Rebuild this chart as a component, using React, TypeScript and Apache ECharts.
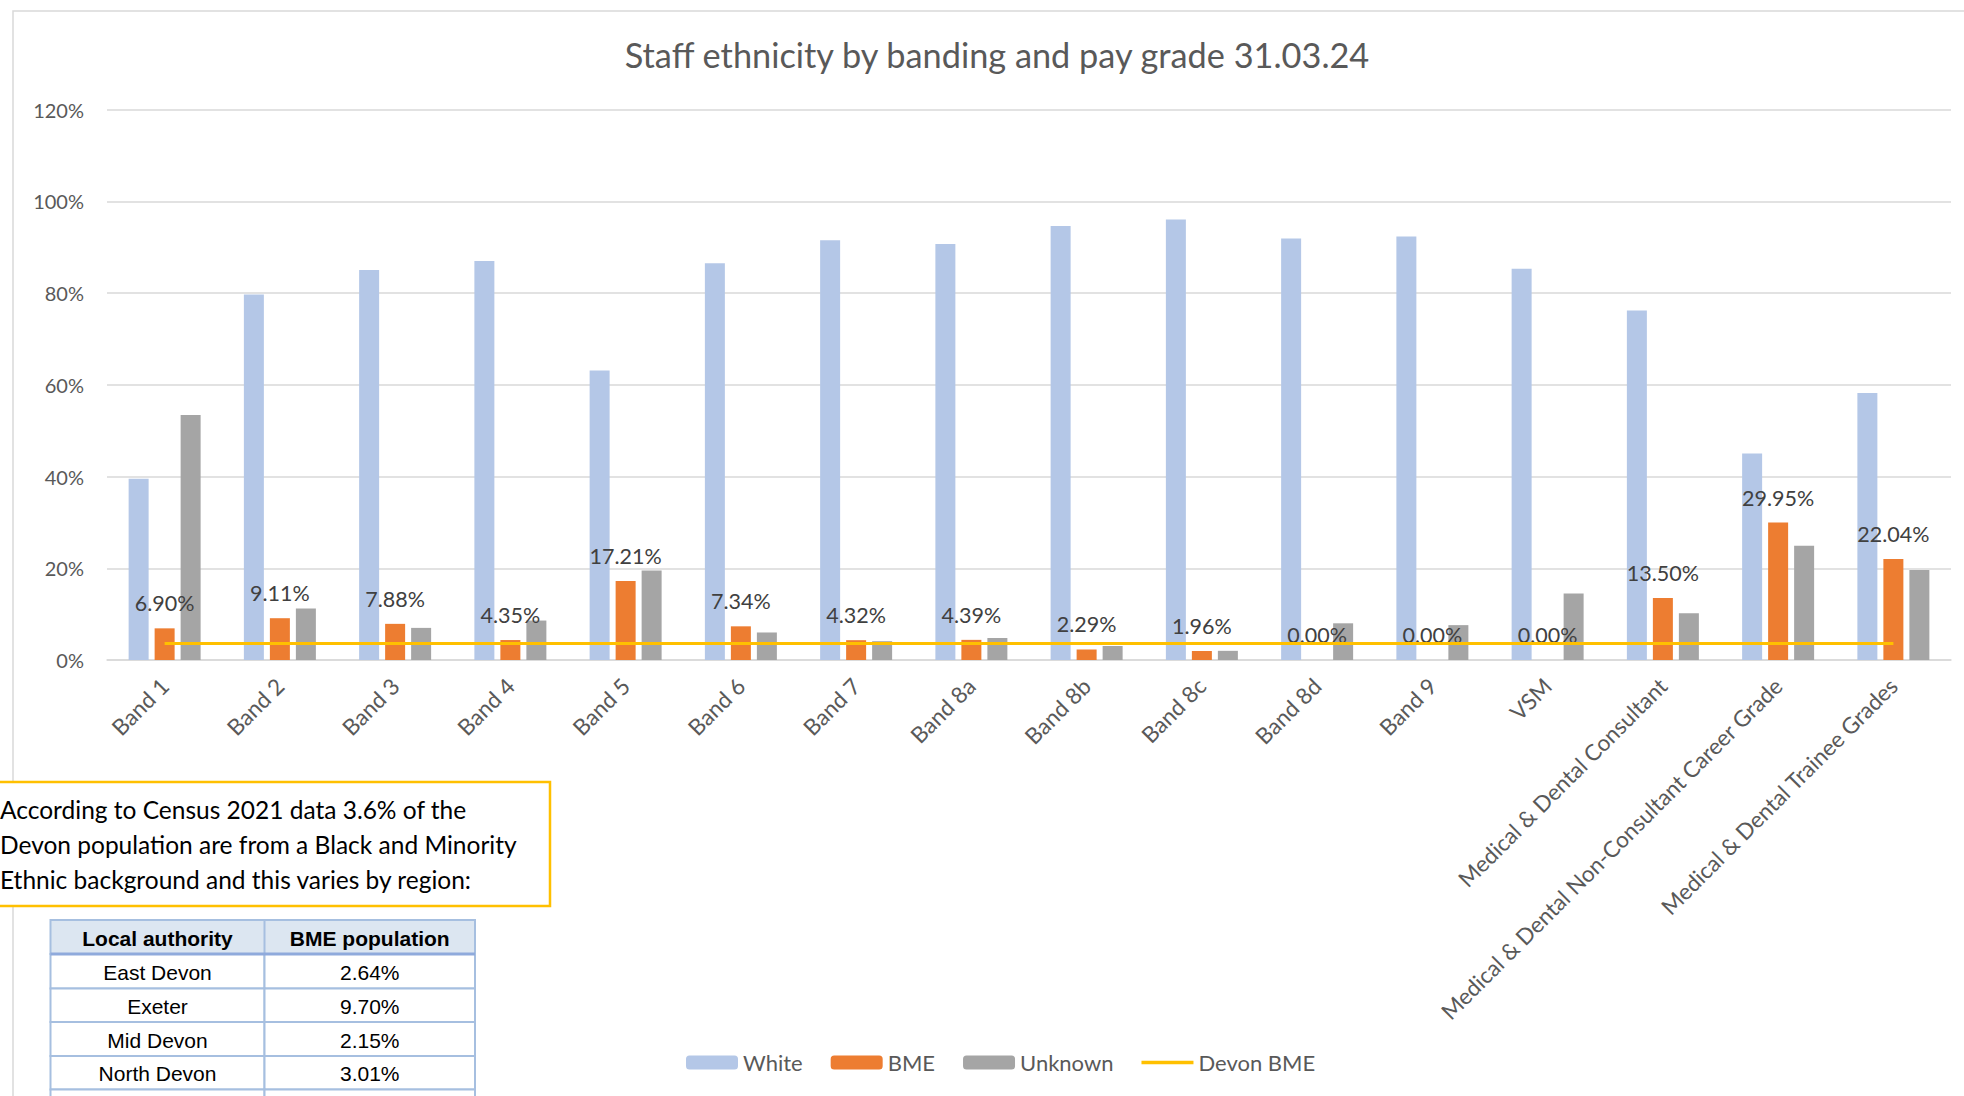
import React, { useEffect, useRef } from "react";
import * as echarts from "echarts";

const categories = [
  "Band 1", "Band 2", "Band 3", "Band 4", "Band 5", "Band 6", "Band 7", "Band 8a",
  "Band 8b", "Band 8c", "Band 8d", "Band 9", "VSM", "Medical & Dental Consultant",
  "Medical & Dental Non-Consultant Career Grade", "Medical & Dental Trainee Grades",
];
const whiteValues = [39.5, 79.7, 85.0, 87.0, 63.1, 86.5, 91.5, 90.7, 94.6, 96.0, 91.9, 92.3, 85.3, 76.2, 45.0, 58.2];
const bmeValues = [6.9, 9.11, 7.88, 4.35, 17.21, 7.34, 4.32, 4.39, 2.29, 1.96, 0, 0, 0, 13.5, 29.95, 22.04];
const unknownValues = [53.4, 11.2, 7.0, 8.6, 19.5, 6.0, 4.1, 4.8, 3.05, 2.0, 8.0, 7.6, 14.5, 10.2, 24.9, 19.6];
const devonBme = 3.6;
const yMin = 0;
const yMax = 120;
const yStep = 20;

const titleText = "Staff ethnicity by banding and pay grade 31.03.24";
const noteLines = [
  "According to Census 2021 data 3.6% of the",
  "Devon population are from a Black and Minority",
  "Ethnic background and this varies by region:",
];
const tableHeaders = ["Local authority", "BME population"];
const authorities = ["East Devon", "Exeter", "Mid Devon", "North Devon"];
const bmePopulation = ["2.64%", "9.70%", "2.15%", "3.01%"];

const FONT = "Lato, sans-serif";
const TABLE_FONT = "'Liberation Sans', Arial, sans-serif";

function txt(text: string, x: number, y: number, opts: any = {}) {
  const align = opts.align || "left";
  return {
    type: "text",
    silent: true,
    z: opts.z ?? 20,
    style: {
      text,
      x,
      y,
      fill: opts.fill || "#000",
      fontSize: opts.fontSize || 20,
      fontFamily: opts.fontFamily || FONT,
      fontWeight: opts.fontWeight || "normal",
      align,
      textAlign: align,
      verticalAlign: "middle",
      textVerticalAlign: "middle",
    },
  };
}

function buildGraphic() {
  const els: any[] = [];
  els.push({
    type: "rect", silent: true, z: 0,
    shape: { x: 13, y: 11, width: 2100, height: 1300 },
    style: { fill: "none", stroke: "#D9D9D9", lineWidth: 1.5 },
  });
  els.push(txt(titleText, 997, 54, { fontSize: 34.3, fill: "#595959", align: "center" }));
  els.push({
    type: "rect", silent: true, z: 18,
    shape: { x: -10, y: 782, width: 560, height: 124 },
    style: { fill: "#fff", stroke: "#FFC000", lineWidth: 2.5 },
  });
  const noteY = [809.5, 844.5, 879.5];
  noteLines.forEach((l, i) => els.push(txt(l, 0, noteY[i], { fontSize: 24.5, fill: "#000" })));

  const colX = [50.5, 264.5, 475];
  const rowY = [920, 954, 988.5, 1022, 1056, 1089.5, 1124];
  const borderColor = "#A6BFE0";
  els.push({
    type: "rect", silent: true, z: 18,
    shape: { x: colX[0], y: rowY[0], width: colX[2] - colX[0], height: rowY[1] - rowY[0] },
    style: { fill: "#DCE6F1", stroke: borderColor, lineWidth: 2 },
  });
  for (let r = 1; r < rowY.length - 1; r++) {
    for (let c = 0; c < 2; c++) {
      els.push({
        type: "rect", silent: true, z: 18,
        shape: { x: colX[c], y: rowY[r], width: colX[c + 1] - colX[c], height: rowY[r + 1] - rowY[r] },
        style: { fill: "#fff", stroke: borderColor, lineWidth: 2 },
      });
    }
  }
  els.push({
    type: "line", silent: true, z: 19,
    shape: { x1: colX[1], y1: rowY[0], x2: colX[1], y2: rowY[1] },
    style: { stroke: borderColor, lineWidth: 2 },
  });
  els.push({
    type: "line", silent: true, z: 19,
    shape: { x1: colX[0], y1: rowY[1], x2: colX[2], y2: rowY[1] },
    style: { stroke: "#8FAADC", lineWidth: 3 },
  });
  const colC = [(colX[0] + colX[1]) / 2, (colX[1] + colX[2]) / 2];
  tableHeaders.forEach((h, c) =>
    els.push(txt(h, colC[c], (rowY[0] + rowY[1]) / 2 + 1, { fontSize: 21, fontWeight: "bold", fontFamily: TABLE_FONT, align: "center" }))
  );
  authorities.forEach((a, r) => {
    const cy = (rowY[r + 1] + rowY[r + 2]) / 2 + 1;
    els.push(txt(a, colC[0], cy, { fontSize: 21, fontFamily: TABLE_FONT, align: "center" }));
    els.push(txt(bmePopulation[r], colC[1], cy, { fontSize: 21, fontFamily: TABLE_FONT, align: "center" }));
  });
  return els;
}

export default function App() {
  const ref = useRef<HTMLDivElement>(null);
  useEffect(() => {
    if (!ref.current) return;
    const chart = echarts.init(ref.current, undefined, { renderer: "svg" });
    const option: any = {
      animation: false,
      backgroundColor: "#fff",
      textStyle: { fontFamily: FONT },
      grid: { left: 107, right: 13, top: 109.5, bottom: 436, containLabel: false },
      legend: {
        data: [
          "White",
          "BME",
          "Unknown",
          { name: "Devon BME", icon: "path://M0,0 L52,0 L52,3.5 L0,3.5 Z" },
        ],
        left: 681,
        top: 1046.5,
        itemWidth: 52,
        itemHeight: 14,
        itemGap: 28,
        textStyle: { fontSize: 22, color: "#595959", fontFamily: FONT },
      },
      xAxis: {
        type: "category",
        data: categories,
        axisTick: { show: false },
        axisLine: { lineStyle: { color: "#D9D9D9", width: 1.5 } },
        axisLabel: { rotate: 45, interval: 0, fontSize: 22.5, color: "#595959", margin: 22, fontFamily: FONT },
      },
      yAxis: {
        type: "value",
        min: yMin,
        max: yMax,
        interval: yStep,
        axisLine: { show: false },
        axisTick: { show: false },
        axisLabel: { formatter: "{value}%", fontSize: 20, color: "#595959", margin: 23, fontFamily: FONT },
        splitLine: { lineStyle: { color: "#D9D9D9", width: 1.5 } },
      },
      series: [
        { name: "White", type: "bar", data: whiteValues, barWidth: 20, barGap: "30%", itemStyle: { color: "#B4C7E7" } },
        {
          name: "BME", type: "bar", data: bmeValues, barWidth: 20, barGap: "30%", itemStyle: { color: "#ED7D31" },
          label: {
            show: true, position: "top", distance: 14, fontSize: 21.5, color: "#404040", fontFamily: FONT,
            formatter: (p: any) => Number(p.value).toFixed(2) + "%",
          },
        },
        { name: "Unknown", type: "bar", data: unknownValues, barWidth: 20, barGap: "30%", itemStyle: { color: "#A5A5A5" } },
        {
          name: "Devon BME", type: "line", data: categories.map(() => devonBme), symbol: "none", z: 3,
          lineStyle: { color: "#FFC000", width: 3 }, itemStyle: { color: "#FFC000" },
        },
      ],
      graphic: buildGraphic(),
    };
    chart.setOption(option);
    return () => chart.dispose();
  }, []);
  return (
    <div style={{ position: "absolute", left: 0, top: 0, width: 1964, height: 1096, overflow: "hidden", background: "#fff" }}>
      <div ref={ref} style={{ width: 1964, height: 1096 }} />
    </div>
  );
}
